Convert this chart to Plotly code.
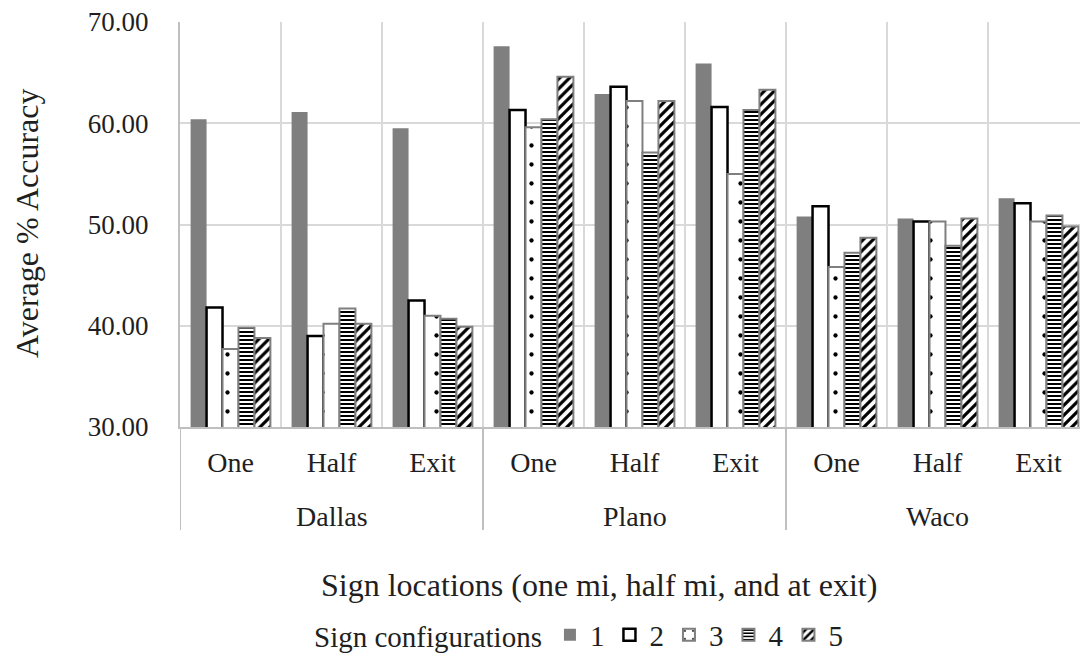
import plotly.graph_objects as go

# Sign locations within each city (x categories) and the cities they belong to
cities = ["Dallas", "Plano", "Waco"]
locations = ["One", "Half", "Exit"]

# Average % accuracy for each sign configuration, ordered
# Dallas One/Half/Exit, Plano One/Half/Exit, Waco One/Half/Exit
config_1 = [60.4, 61.1, 59.5, 67.6, 62.9, 65.9, 50.8, 50.6, 52.6]
config_2 = [41.8, 39.0, 42.5, 61.3, 63.6, 61.6, 51.8, 50.3, 52.1]
config_3 = [37.7, 40.2, 41.0, 59.6, 62.2, 55.0, 45.8, 50.3, 50.3]
config_4 = [39.8, 41.7, 40.7, 60.4, 57.1, 61.3, 47.2, 47.9, 50.9]
config_5 = [38.8, 40.2, 39.9, 64.6, 62.2, 63.3, 48.7, 50.6, 49.8]

series_names = ["1", "2", "3", "4", "5"]
series_values = [config_1, config_2, config_3, config_4, config_5]

y_ticks = [30, 40, 50, 60, 70]

FONT = "Liberation Serif, Times New Roman, serif"
TEXT = "#1f1f1f"
GRID = "#d9d9d9"
AXIS = "#bfbfbf"
GRAY = "#7f7f7f"

tick_labels = locations * len(cities)
x_pos = list(range(len(tick_labels)))

styles = [
    dict(color=GRAY, line=dict(color=GRAY, width=0)),
    dict(color="white", line=dict(color="black", width=2.5)),
    dict(color="white", line=dict(color=GRAY, width=2),
         pattern=dict(shape=".", fgcolor="black", bgcolor="white",
                      size=19, solidity=0.04, fillmode="replace")),
    dict(color="white", line=dict(color=GRAY, width=2),
         pattern=dict(shape="-", fgcolor="black", bgcolor="white",
                      size=4, solidity=0.5, fillmode="replace")),
    dict(color="white", line=dict(color=GRAY, width=2),
         pattern=dict(shape="/", fgcolor="black", bgcolor="white",
                      size=7, solidity=0.45, fillmode="replace")),
]

fig = go.Figure()
for name, vals, st in zip(series_names, series_values, styles):
    fig.add_trace(go.Bar(x=x_pos, y=vals, name=name, marker=st))

# Geometry of the plot area in pixels
W, H = 1080, 656
L, T, B = 180, 22, 229
plot_w = W - L
plot_h = H - T - B
cat_px = 101.0
x_max = -0.5 + plot_w / cat_px


def px_to_paper_x(px):
    return (px - L) / plot_w


def px_to_paper_y(py):
    return (H - B - py) / plot_h


shapes = []
# Dividers between city groups below the axis
for xv in [-0.5, 2.5, 5.5, 8.5]:
    shapes.append(dict(type="line", xref="x", yref="paper", x0=xv, x1=xv,
                       y0=0, y1=px_to_paper_y(530),
                       line=dict(color=AXIS, width=2), layer="below"))

annotations = []
for i, c in enumerate(cities):
    annotations.append(dict(text=c, xref="x", yref="paper", x=3 * i + 1,
                            y=px_to_paper_y(516), xanchor="center",
                            yanchor="middle", showarrow=False,
                            font=dict(family=FONT, size=28, color=TEXT)))

annotations.append(dict(text="Sign locations (one mi, half mi, and at exit)",
                        xref="paper", yref="paper", x=px_to_paper_x(598.5),
                        y=px_to_paper_y(585), xanchor="center",
                        yanchor="middle", showarrow=False,
                        font=dict(family=FONT, size=32, color=TEXT)))
annotations.append(dict(text="Average % Accuracy", textangle=-90,
                        xref="paper", yref="paper", x=px_to_paper_x(27),
                        y=px_to_paper_y(224), xanchor="center",
                        yanchor="middle", showarrow=False,
                        font=dict(family=FONT, size=32, color=TEXT)))

fig.update_layout(
    width=W, height=H,
    margin=dict(l=L, r=0, t=T, b=B, autoexpand=False),
    paper_bgcolor="white", plot_bgcolor="white",
    barmode="group", bargap=0.21, bargroupgap=0,
    font=dict(family=FONT, color=TEXT),
    showlegend=True,
    legend=dict(orientation="h", x=px_to_paper_x(312), xanchor="left",
                y=px_to_paper_y(635), yanchor="middle",
                title=dict(text="Sign configurations", side="left",
                           font=dict(family=FONT, size=29, color=TEXT)),
                font=dict(family=FONT, size=29, color=TEXT),
                itemwidth=30, traceorder="normal",
                bgcolor="rgba(0,0,0,0)"),
    shapes=shapes,
    annotations=annotations,
)

fig.update_xaxes(
    range=[-0.5, x_max], tickmode="array", tickvals=x_pos,
    ticktext=tick_labels, showgrid=False, zeroline=False,
    showline=True, linecolor=AXIS, linewidth=2,
    ticks="", ticklabelstandoff=9,
    tickfont=dict(family=FONT, size=28, color=TEXT),
    minor=dict(tickmode="array", tickvals=[i + 0.5 for i in x_pos],
               showgrid=True, gridcolor=GRID, gridwidth=2, ticks=""),
)
fig.update_yaxes(
    range=[30, 70], tickmode="array", tickvals=y_ticks, tickformat=".2f",
    showgrid=True, gridcolor=GRID, gridwidth=2, zeroline=False,
    showline=True, linecolor=AXIS, linewidth=2,
    ticks="", ticklabelstandoff=24,
    tickfont=dict(family=FONT, size=27, color=TEXT),
)

fig.write_html("out.html")
